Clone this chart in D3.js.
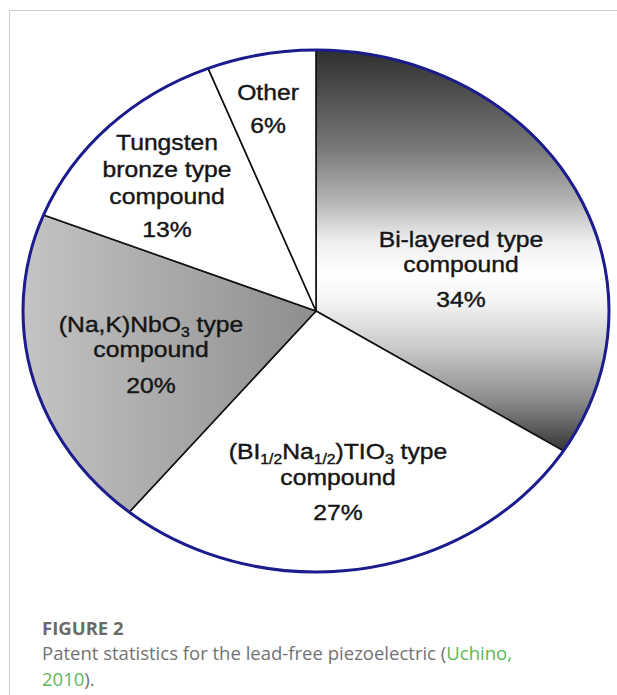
<!DOCTYPE html>
<html>
<head>
<meta charset="utf-8">
<script src="https://cdn.jsdelivr.net/npm/d3@7/dist/d3.min.js"></script>
<style>
  html, body { margin: 0; padding: 0; background: #fff; }
  svg { display: block; }
</style>
</head>
<body>
<svg id="chart" width="617" height="695"></svg>
<script>
// ---------- DATA ----------
const categories = ["Bi-layered", "BNT", "NKN", "Tungsten bronze", "Other"];
const values = [34, 27, 20, 13, 6];
// label lines (segments with optional subscript)
const labelLines = [
  [[{t:"Bi-layered type"}], [{t:"compound"}]],
  [[{t:"(BI"},{t:"1/2",sub:true},{t:"Na"},{t:"1/2",sub:true},{t:")TIO"},{t:"3",sub:true},{t:" type"}], [{t:"compound"}]],
  [[{t:"(Na,K)NbO"},{t:"3",sub:true},{t:" type"}], [{t:"compound"}]],
  [[{t:"Tungsten"}], [{t:"bronze type"}], [{t:"compound"}]],
  [[{t:"Other"}]]
];
const figureLabel = "FIGURE 2";
const captionText = "Patent statistics for the lead-free piezoelectric (";
const captionLink1 = "Uchino,";
const captionLink2 = "2010";
const captionEnd = ").";

// ---------- LAYOUT ----------
const W = 617, H = 695;
const cx = 316, cy = 311, ry = 261, rx = 293;
const sx = rx / ry;
// label anchor (screen x, first baseline y, line step, gap to percent)
const labelLayout = [
  {x: 461, y: 247, step: 25, pct: 35},
  {x: 338, y: 459, step: 26, pct: 35},
  {x: 151, y: 332, step: 25, pct: 36},
  {x: 167, y: 150, step: 27, pct: 33},
  {x: 268, y: 100, step: 26, pct: 33}
];

const svg = d3.select("#chart");
const defs = svg.append("defs");

// gradients
const g1 = defs.append("linearGradient").attr("id", "gradBi")
  .attr("gradientUnits", "userSpaceOnUse")
  .attr("x1", 0).attr("x2", 0).attr("y1", -ry).attr("y2", 138);
[[0,"#2f2f2f"],[0.13,"#555"],[0.25,"#7a7a7a"],[0.38,"#b5b5b5"],[0.48,"#efefef"],
 [0.56,"#ffffff"],[0.63,"#f4f4f4"],[0.75,"#c8c8c8"],[0.88,"#8a8a8a"],[1,"#383838"]]
 .forEach(([o,c]) => g1.append("stop").attr("offset", o).attr("stop-color", c));

const g2 = defs.append("linearGradient").attr("id", "gradNKN")
  .attr("gradientUnits", "userSpaceOnUse")
  .attr("x1", -ry).attr("x2", 0).attr("y1", 0).attr("y2", 0);
[[0,"#c4c4c4"],[1,"#8e8e8e"]]
 .forEach(([o,c]) => g2.append("stop").attr("offset", o).attr("stop-color", c));

const fills = ["url(#gradBi)", "#ffffff", "url(#gradNKN)", "#ffffff", "#ffffff"];

// frame
svg.append("line").attr("x1", 9).attr("x2", W).attr("y1", 10.5).attr("y2", 10.5)
  .attr("stroke", "#cfcfcf").attr("stroke-width", 1);
svg.append("line").attr("x1", 9.5).attr("x2", 9.5).attr("y1", 10).attr("y2", H)
  .attr("stroke", "#cfcfcf").attr("stroke-width", 1);

const g = svg.append("g").attr("transform", `translate(${cx},${cy}) scale(${sx},1)`);

const pie = d3.pie().sort(null).value(d => d)(values);
const arc = d3.arc().innerRadius(0).outerRadius(ry);

g.selectAll("path.slice").data(pie).join("path")
  .attr("class", "slice")
  .attr("d", arc)
  .attr("fill", (d, i) => fills[i])
  .attr("stroke", "#111")
  .attr("stroke-width", 1.6)
  .attr("stroke-linejoin", "round")
  .attr("vector-effect", "non-scaling-stroke");

g.append("circle").attr("r", ry).attr("fill", "none")
  .attr("stroke", "#1c1c8e").attr("stroke-width", 3)
  .attr("vector-effect", "non-scaling-stroke");

// labels
const labelG = g.append("g")
  .attr("font-family", "'Liberation Sans', Arial, sans-serif")
  .attr("font-size", 22)
  .attr("fill", "#151515")
  .attr("stroke", "#151515").attr("stroke-width", 0.4)
  .attr("text-anchor", "middle");

labelLines.forEach((lines, i) => {
  const L = labelLayout[i];
  const gx = (L.x - cx) / sx;
  lines.forEach((segs, j) => {
    const t = labelG.append("text").attr("x", gx).attr("y", L.y - cy + j * L.step);
    let shift = 0;
    segs.forEach(s => {
      const sp = t.append("tspan").text(s.t);
      if (s.sub) {
        sp.attr("font-size", 14).attr("dy", 5 - shift);
        shift = 5;
      } else if (shift) {
        sp.attr("dy", -shift);
        shift = 0;
      }
    });
  });
  labelG.append("text").attr("x", gx)
    .attr("y", L.y - cy + (lines.length - 1) * L.step + L.pct)
    .text(values[i] + "%");
});

// caption
const capX = 42;
svg.append("text").attr("x", capX).attr("y", 635)
  .attr("font-family", "'Open Sans', sans-serif").attr("font-weight", 700)
  .attr("font-size", 18.5).attr("fill", "#6a6a6a").text(figureLabel);

const cap = svg.append("text").attr("x", capX).attr("y", 660)
  .attr("font-family", "'Open Sans', sans-serif").attr("font-weight", 400)
  .attr("font-size", 17).attr("fill", "#727272");
cap.append("tspan").text(captionText);
cap.append("tspan").attr("fill", "#5cb85c").text(captionLink1);
// fit caption line width to ~470px
const len = cap.node().getComputedTextLength();
const fs = 17 * 470 / len;
cap.attr("font-size", fs.toFixed(2));

const cap2 = svg.append("text").attr("x", capX).attr("y", 686)
  .attr("font-family", "'Open Sans', sans-serif").attr("font-weight", 400)
  .attr("font-size", fs.toFixed(2)).attr("fill", "#727272");
cap2.append("tspan").attr("fill", "#5cb85c").text(captionLink2);
cap2.append("tspan").text(captionEnd);
</script>
</body>
</html>
